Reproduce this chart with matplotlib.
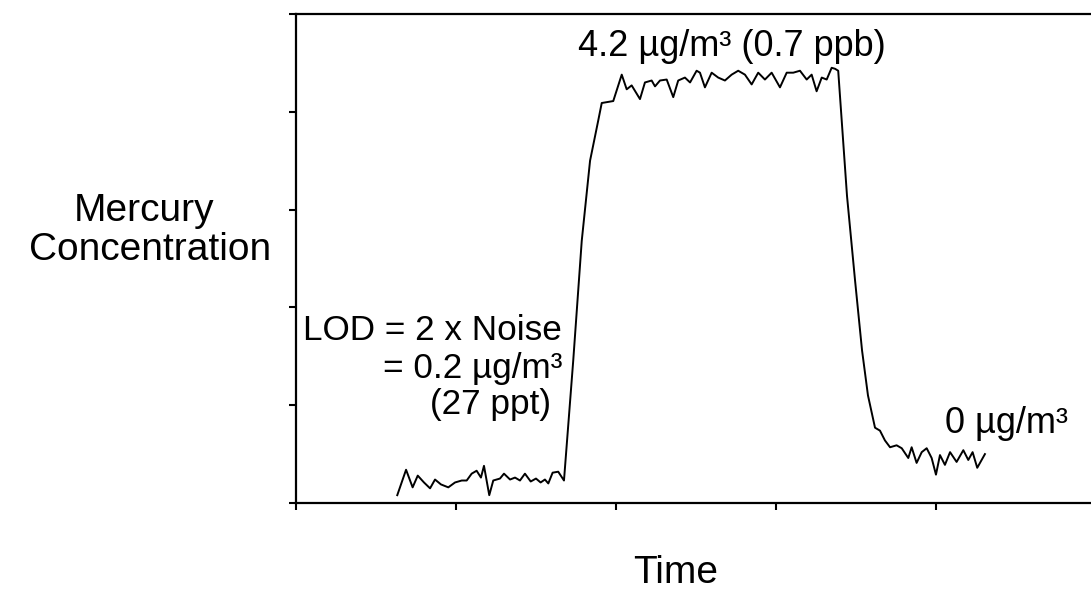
import numpy as np
import matplotlib.pyplot as plt

plt.rcParams['font.family'] = ['Liberation Sans', 'DejaVu Sans']

# trace: time (arbitrary, tick = 10) and concentration (tick = 1)
time = [6.33, 6.88, 7.29, 7.61, 8.0, 8.38, 8.69, 9.06, 9.52, 9.94,
        10.36, 10.67, 10.98, 11.29, 11.56, 11.75, 12.08, 12.33, 12.75, 13.0,
        13.38, 13.69, 14.0, 14.31, 14.67, 15.0, 15.29, 15.56, 15.77, 16.04,
        16.39, 16.75,
        17.33, 17.86, 18.38, 18.89, 19.11, 19.83, 20.36, 20.67, 20.98, 21.5,
        21.81, 22.23, 22.44, 22.75, 23.17, 23.58, 23.89, 24.31, 24.63, 25.04,
        25.25, 25.56, 25.98, 26.39, 26.81, 27.23, 27.64, 28.06, 28.48, 28.89,
        29.31, 29.73, 30.25, 30.67, 31.08, 31.5, 31.92, 32.23, 32.54, 32.86,
        33.17, 33.48, 33.69, 33.89,
        34.44, 34.94, 35.38, 35.75, 36.19, 36.5, 36.81, 37.13, 37.54, 37.86,
        38.27, 38.48, 38.79, 39.11, 39.42, 39.73, 40.0, 40.25, 40.56, 40.88,
        41.29, 41.71, 42.02, 42.29, 42.58, 43.06]
conc = [0.08, 0.34, 0.16, 0.28, 0.21, 0.15, 0.24, 0.19, 0.16, 0.21,
        0.23, 0.23, 0.30, 0.33, 0.26, 0.38, 0.08, 0.23, 0.25, 0.30,
        0.24, 0.26, 0.23, 0.30, 0.22, 0.25, 0.21, 0.24, 0.20, 0.31,
        0.32, 0.23,
        1.46, 2.68, 3.50, 3.91, 4.09, 4.11, 4.38, 4.23, 4.27, 4.13,
        4.30, 4.32, 4.26, 4.32, 4.33, 4.15, 4.32, 4.35, 4.30, 4.42,
        4.40, 4.25, 4.40, 4.35, 4.32, 4.38, 4.42, 4.38, 4.28, 4.40,
        4.33, 4.40, 4.25, 4.40, 4.40, 4.42, 4.33, 4.38, 4.21, 4.35,
        4.33, 4.45, 4.44, 4.42,
        3.14, 2.28, 1.56, 1.10, 0.77, 0.74, 0.64, 0.57, 0.59, 0.56,
        0.46, 0.57, 0.41, 0.52, 0.56, 0.46, 0.29, 0.49, 0.39, 0.52,
        0.42, 0.54, 0.44, 0.52, 0.36, 0.50]

xticks = [0, 10, 20, 30, 40]
yticks = [0, 1, 2, 3, 4, 5]

fig = plt.figure(figsize=(10.91, 5.91), dpi=100)
ax = fig.add_axes([0.2713, 0.1489, 0.7287, 0.8274])
ax.plot(time, conc, color='black', lw=1.4)

ax.set_xlim(0, 49.69)
ax.set_ylim(0, 4.99)
ax.set_xticks(xticks)
ax.set_yticks(yticks)
ax.set_xticklabels([])
ax.set_yticklabels([])
ax.tick_params(direction='out', length=5, width=1.5, color='black')
ax.spines['right'].set_visible(False)
for s in ['left', 'bottom', 'top']:
    ax.spines[s].set_linewidth(1.6)

W, H = 1091, 591


def put(x, y, s, size, ha='left'):
    fig.text(x / W, 1 - y / H, s, ha=ha, va='baseline', fontsize=size)


put(144, 221, 'Mercury', 28, 'center')
put(150, 260, 'Concentration', 28, 'center')
put(676, 583, 'Time', 28, 'center')
put(578, 56, '4.2 \u00b5g/m\u00b3 (0.7 ppb)', 26)
put(303, 340, 'LOD = 2 x Noise', 25.3)
put(383, 378, '= 0.2 \u00b5g/m\u00b3', 25.3)
put(430, 414, '(27 ppt)', 25.3)
put(945, 433, '0 \u00b5g/m\u00b3', 26)

fig.savefig('out.png', dpi=100)
